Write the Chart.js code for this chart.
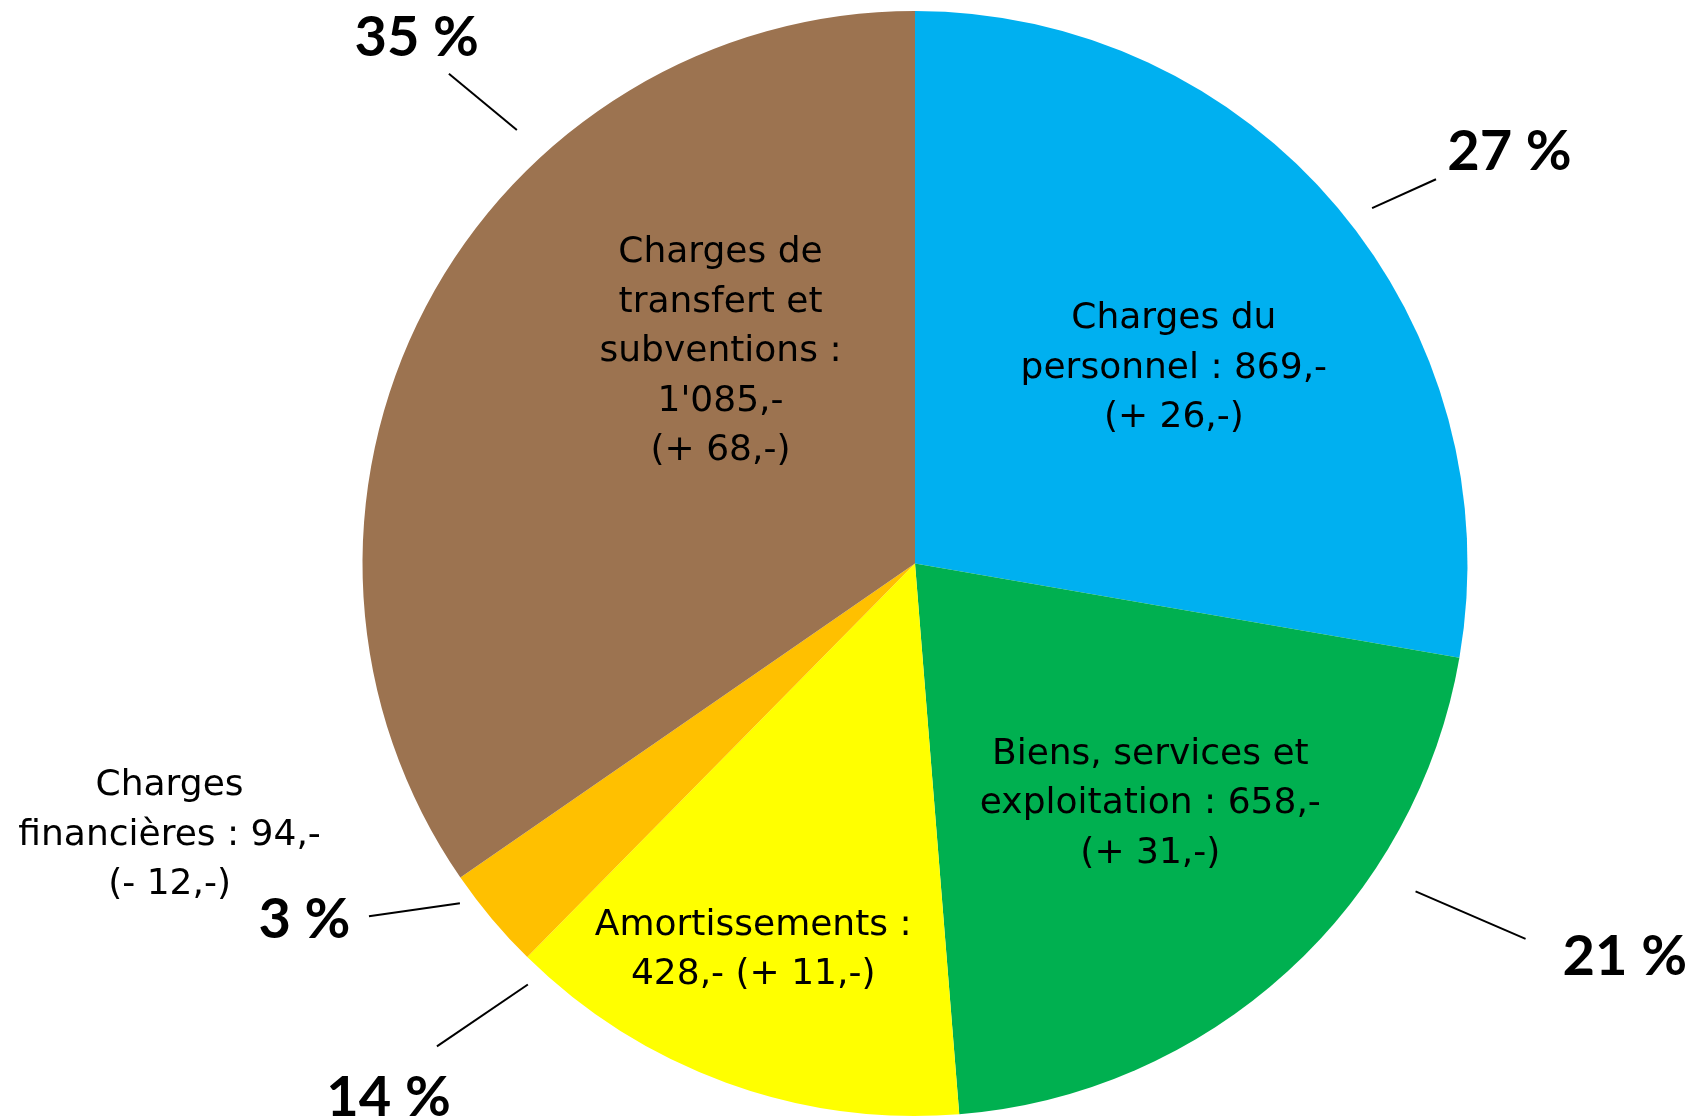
<!DOCTYPE html>
<html>
<head>
<meta charset="utf-8">
<script src="https://cdn.jsdelivr.net/npm/chart.js@4/dist/chart.umd.min.js"></script>
<style>
  html, body { margin: 0; padding: 0; background: #ffffff; }
  canvas { display: block; }
</style>
</head>
<body>
<canvas id="c" width="1693" height="1119"></canvas>
<script>
// ---- Data ----
const categories = ['Charges du personnel', 'Biens, services et exploitation', 'Amortissements', 'Charges financières', 'Charges de transfert et subventions'];
const values = [869, 658, 428, 94, 1085];
const changes = ['+ 26,-', '+ 31,-', '+ 11,-', '- 12,-', '+ 68,-'];
const percentLabels = ['27 %', '21 %', '14 %', '3 %', '35 %'];
const colors = ['#00B0F0', '#00B050', '#FFFF00', '#FFC000', '#9C7350'];

function fmt(v) {
  const s = String(v);
  return s.length > 3 ? s.slice(0, s.length - 3) + "'" + s.slice(-3) : s;
}

// Text lines for each slice label (built from the data)
const labelLines = [
  ['Charges du', 'personnel : ' + fmt(values[0]) + ',-', '(' + changes[0] + ')'],
  ['Biens, services et', 'exploitation : ' + fmt(values[1]) + ',-', '(' + changes[1] + ')'],
  ['Amortissements :', fmt(values[2]) + ',- (' + changes[2] + ')'],
  ['Charges', 'financières : ' + fmt(values[3]) + ',-', '(' + changes[3] + ')'],
  ['Charges de', 'transfert et', 'subventions :', fmt(values[4]) + ',-', '(' + changes[4] + ')']
];

// ---- Layout (in units of the pie radius, relative to pie centre) ----
const labelPos = [[0.4685, -0.3533], [0.4259, 0.4354], [-0.2928, 0.7000], [-1.3492, 0.4920], [-0.352, -0.383]];
const pctPos = [[1.0758, -0.7458], [1.2848, 0.7127], [-0.9528, 0.9682], [-1.1051, 0.6443], [-0.902, -0.951]];
const leaders = [
  [[0.9430, -0.6955], [0.8273, -0.6431]],
  [[0.9060, 0.5935], [1.1051, 0.6794]],
  [[-0.8653, 0.8741], [-0.7007, 0.7620]],
  [[-0.9883, 0.6385], [-0.8237, 0.6150]],
  [[-0.8436, -0.8864], [-0.7206, -0.7848]]
];

const labelPlugin = {
  id: 'labels',
  afterDraw(chart) {
    const ctx = chart.ctx;
    const meta = chart.getDatasetMeta(0);
    const arc0 = meta.data[0];
    const cx = arc0.x, cy = arc0.y, r = arc0.outerRadius;
    ctx.save();
    ctx.fillStyle = '#000';
    ctx.textAlign = 'center';
    ctx.textBaseline = 'middle';
    // slice text labels
    ctx.font = '36px "DejaVu Sans"';
    const lh = 49.6;
    labelLines.forEach((lines, i) => {
      const x = cx + labelPos[i][0] * r;
      const y = cy + labelPos[i][1] * r;
      const n = lines.length;
      lines.forEach((t, j) => {
        ctx.fillText(t, x, y + (j - (n - 1) / 2) * lh);
      });
    });
    // percent labels
    ctx.font = 'bold 56px Lato';
    percentLabels.forEach((t, i) => {
      ctx.fillText(t, cx + pctPos[i][0] * r, cy + pctPos[i][1] * r);
    });
    // leader lines
    ctx.strokeStyle = '#000';
    ctx.lineWidth = 2;
    leaders.forEach(([a, b]) => {
      ctx.beginPath();
      ctx.moveTo(cx + a[0] * r, cy + a[1] * r);
      ctx.lineTo(cx + b[0] * r, cy + b[1] * r);
      ctx.stroke();
    });
    ctx.restore();
  }
};

new Chart(document.getElementById('c'), {
  type: 'pie',
  data: {
    labels: categories,
    datasets: [{
      data: values,
      backgroundColor: colors,
      borderWidth: 0,
      hoverOffset: 0
    }]
  },
  options: {
    responsive: false,
    animation: false,
    devicePixelRatio: 1,
    layout: { padding: { left: 362, right: 225, top: 11, bottom: 3 } },
    plugins: {
      legend: { display: false },
      tooltip: { enabled: false }
    }
  },
  plugins: [labelPlugin]
});
</script>
</body>
</html>
